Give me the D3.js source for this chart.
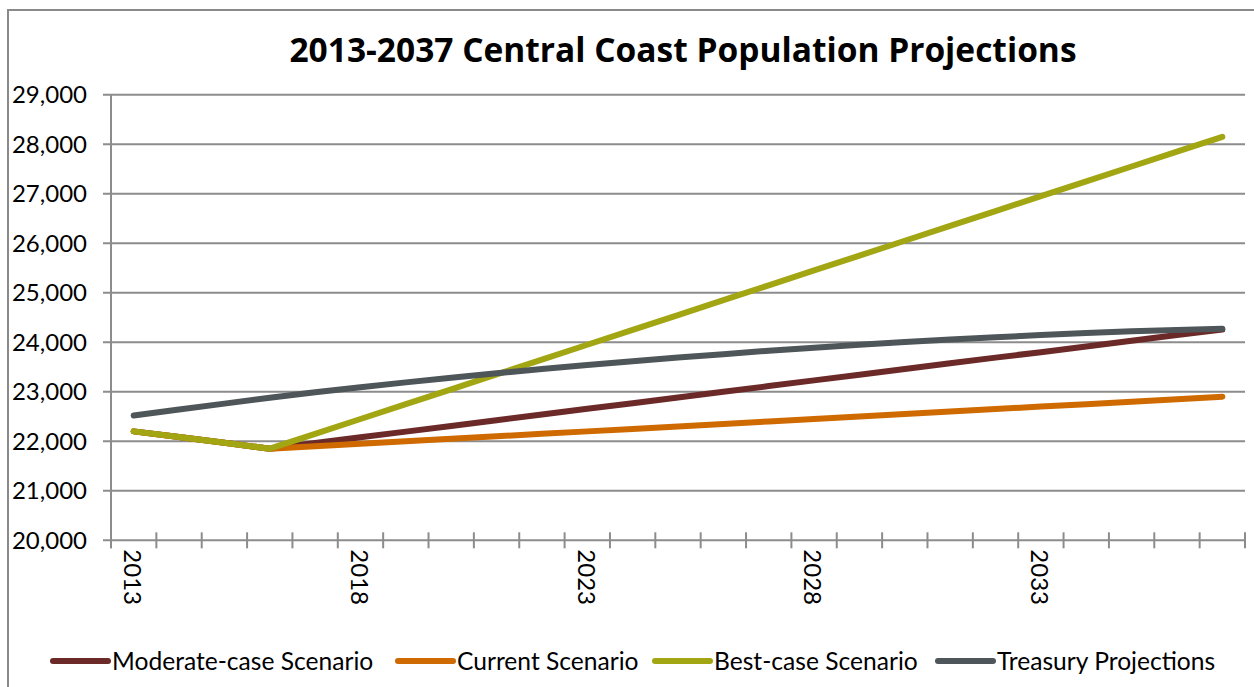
<!DOCTYPE html>
<html>
<head>
<meta charset="utf-8">
<script src="https://cdn.jsdelivr.net/npm/d3@7"></script>
<style>
  html, body { margin: 0; padding: 0; background: #fff; }
  svg { display: block; font-family: Lato, "Open Sans", sans-serif; }
</style>
</head>
<body>
<svg id="chart" width="1254" height="687"></svg>
<script>
const years = d3.range(2013, 2038);
const tickLabelYears = [2013, 2018, 2023, 2028, 2033];
const yTicks = [20000, 21000, 22000, 23000, 24000, 25000, 26000, 27000, 28000, 29000];

const moderate = [22200, 22085, 21970, 21850, 21965, 22080, 22195, 22310, 22425, 22540, 22655, 22770, 22885, 23000, 23115, 23230, 23345, 23460, 23575, 23690, 23800, 23915, 24030, 24145, 24255];
const current  = [22200, 22085, 21970, 21850, 21900, 21950, 22000, 22050, 22100, 22150, 22200, 22250, 22300, 22350, 22400, 22450, 22500, 22550, 22600, 22650, 22700, 22750, 22800, 22850, 22900];
const bestCase = [22200, 22085, 21970, 21850, 22150, 22450, 22750, 23050, 23350, 23650, 23950, 24250, 24550, 24850, 25150, 25450, 25750, 26050, 26350, 26650, 26950, 27250, 27550, 27850, 28150];
const treasury = [22520, 22640, 22760, 22880, 22990, 23090, 23190, 23285, 23375, 23460, 23540, 23615, 23690, 23760, 23830, 23890, 23950, 24005, 24055, 24100, 24145, 24185, 24220, 24250, 24275];

const seriesNames = ["Moderate-case Scenario", "Current Scenario", "Best-case Scenario", "Treasury Projections"];
const seriesColors = ["#6B2A28", "#CF6A00", "#A1A612", "#4E5659"];
const seriesValues = [moderate, current, bestCase, treasury];
const title = "2013-2037 Central Coast Population Projections";

(function () {
const svg = d3.select("#chart");
const W = 1254, H = 687;
const pL = 111, pR = 1245, pT = 94.7, pB = 540.3;

svg.append("rect").attr("x", 8).attr("y", 10).attr("width", W + 10).attr("height", H + 10)
  .attr("fill", "none").attr("stroke", "#8a8a8a").attr("stroke-width", 2);

const x = d3.scaleBand().domain(years).range([pL, pR]).paddingInner(0).paddingOuter(0);
const y = d3.scaleLinear().domain([20000, 29000]).range([pB, pT]);

svg.append("g").selectAll("line").data(yTicks).join("line")
  .attr("x1", pL - 8).attr("x2", pR)
  .attr("y1", d => y(d)).attr("y2", d => y(d))
  .attr("stroke", "#8c8c8c").attr("stroke-width", 2);

svg.append("line").attr("x1", pL).attr("x2", pL).attr("y1", pT).attr("y2", pB + 8)
  .attr("stroke", "#8c8c8c").attr("stroke-width", 2);

svg.append("g").selectAll("text").data(yTicks).join("text")
  .attr("x", 87).attr("y", d => y(d)).attr("dy", "0.36em")
  .attr("text-anchor", "end").attr("font-size", 24).attr("fill", "#000")
  .text(d => d3.format(",")(d));

const boundaries = years.map(yr => x(yr)).concat([pR]);
svg.append("g").selectAll("line").data(boundaries).join("line")
  .attr("x1", d => d).attr("x2", d => d).attr("y1", pB - 8).attr("y2", pB + 8)
  .attr("stroke", "#8c8c8c").attr("stroke-width", 2);

svg.append("g").selectAll("text").data(tickLabelYears).join("text")
  .attr("transform", d => `translate(${x(d) + x.bandwidth() / 2 - 1},${pB + 9}) rotate(90)`)
  .attr("dy", "0.36em").attr("text-anchor", "start").attr("font-size", 24).attr("fill", "#000")
  .text(d => d);

const line = d3.line().x((d, i) => x(years[i]) + x.bandwidth() / 2).y(d => y(d));
svg.append("g").selectAll("path").data(seriesValues).join("path")
  .attr("d", d => line(d)).attr("fill", "none")
  .attr("stroke", (d, i) => seriesColors[i]).attr("stroke-width", 6)
  .attr("stroke-linecap", "round").attr("stroke-linejoin", "round");

svg.append("text").attr("x", 683).attr("y", 62).attr("text-anchor", "middle")
  .attr("font-family", "'Open Sans', sans-serif")
  .attr("font-size", 33.5).attr("font-weight", "bold").attr("fill", "#000")
  .text(title);

const legendX = [53, 398, 655, 938];
const lg = svg.append("g").selectAll("g").data(seriesNames).join("g")
  .attr("transform", (d, i) => `translate(${legendX[i]},661)`);
lg.append("line").attr("x1", 0).attr("x2", 55).attr("y1", 0).attr("y2", 0)
  .attr("stroke", (d, i) => seriesColors[i]).attr("stroke-width", 6).attr("stroke-linecap", "round");
lg.append("text").attr("x", 59).attr("y", 0).attr("dy", "0.36em")
  .attr("font-size", 24.6).attr("fill", "#000").text(d => d);
})();
</script>
</body>
</html>
